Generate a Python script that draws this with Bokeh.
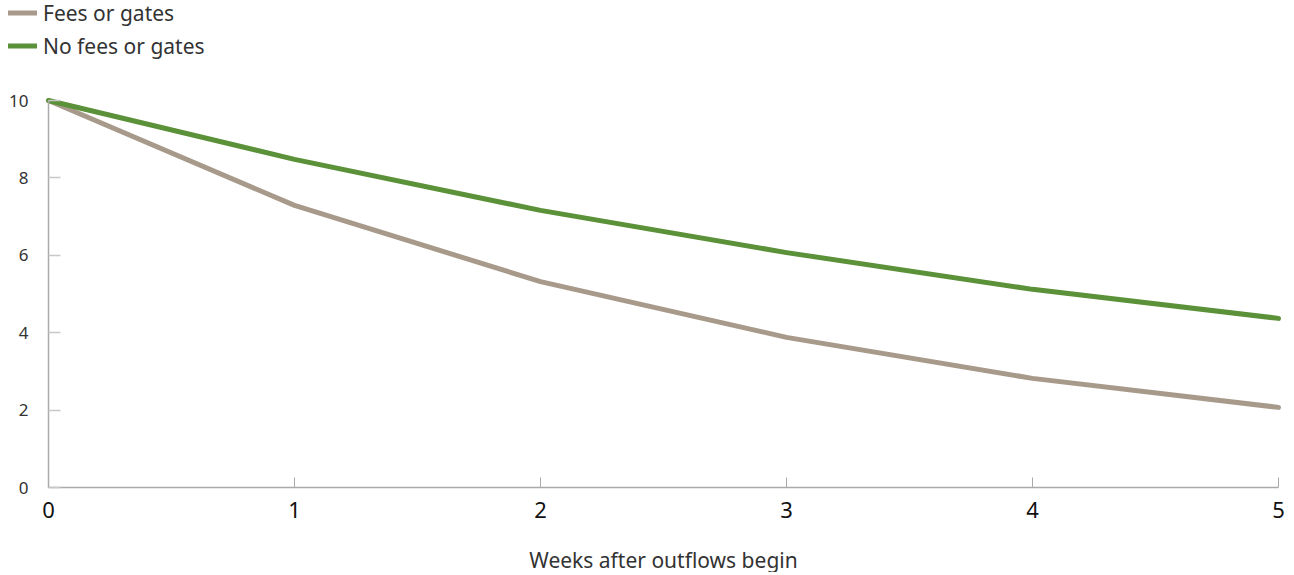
from bokeh.plotting import figure
from bokeh.models import Range1d, Legend, LegendItem, FixedTicker, Label
from bokeh.embed import file_html
from bokeh.resources import INLINE

weeks = [0, 1, 2, 3, 4, 5]
fees_or_gates = [10.0, 7.29, 5.32, 3.88, 2.82, 2.07]
no_fees_or_gates = [10.0, 8.48, 7.16, 6.07, 5.12, 4.37]
y_ticks = [0, 2, 4, 6, 8, 10]
x_label = "Weeks after outflows begin"
series_names = ["Fees or gates", "No fees or gates"]

FONT = "Noto Sans"
TAN = "#a89a8a"
GREEN = "#5b9138"

# The frame spans the whole canvas so that nothing (legend, axes, labels) is clipped;
# the axes are pinned at x = 0 and y = 0.
W, H = 1290, 572
PX_PER_WEEK = 246.0
PX_PER_UNIT = 38.7
AXIS_Y_PX = 487   # canvas y of value 0
AXIS_X_PX = 48    # canvas x of week 0

p = figure(width=W, height=H, output_backend="svg", toolbar_location=None,
           x_range=Range1d(-AXIS_X_PX / PX_PER_WEEK, (W - AXIS_X_PX) / PX_PER_WEEK),
           y_range=Range1d(-(H - AXIS_Y_PX) / PX_PER_UNIT, AXIS_Y_PX / PX_PER_UNIT),
           min_border_left=0, min_border_right=0, min_border_top=0, min_border_bottom=0)
p.outline_line_color = None
p.xgrid.grid_line_color = None
p.ygrid.grid_line_color = None
p.background_fill_color = "white"
p.border_fill_color = "white"

r1 = p.line(weeks, fees_or_gates, line_color=TAN, line_width=5, line_cap="round", line_join="round")
r2 = p.line(weeks, no_fees_or_gates, line_color=GREEN, line_width=5, line_cap="round", line_join="round")

# x axis, pinned at y = 0
xa = p.xaxis[0]
xa.fixed_location = 0
xa.ticker = FixedTicker(ticks=weeks)
xa.bounds = (weeks[0], weeks[-1])
xa.axis_line_color = "#aaaaaa"
xa.axis_line_width = 1.5
xa.major_tick_in = 10
xa.major_tick_out = 0
xa.major_tick_line_color = "#aaaaaa"
xa.minor_tick_line_color = None
xa.major_label_text_font = FONT
xa.major_label_text_font_size = "22px"
xa.major_label_text_color = "#111111"
xa.major_label_standoff = 14

# x axis title, centred under the weeks
p.add_layout(Label(x=(weeks[0] + weeks[-1]) / 2, y=13, y_units="screen", text=x_label,
                   text_align="center", text_baseline="middle",
                   text_font=FONT, text_font_size="21px", text_color="#333333"))

# y axis, pinned at x = 0
ya = p.yaxis[0]
ya.fixed_location = 0
ya.ticker = FixedTicker(ticks=y_ticks)
ya.bounds = (y_ticks[0], y_ticks[-1])
ya.axis_line_color = "#aaaaaa"
ya.axis_line_width = 1.5
ya.major_tick_in = 12
ya.major_tick_out = 0
ya.major_tick_line_color = "#c8c8c8"
ya.major_tick_line_width = 1.5
ya.minor_tick_line_color = None
ya.major_label_text_font = FONT
ya.major_label_text_font_size = "17px"
ya.major_label_text_color = "#333333"
ya.major_label_standoff = 20

legend = Legend(items=[LegendItem(label=series_names[0], renderers=[r1]),
                       LegendItem(label=series_names[1], renderers=[r2])],
                location=(8, 512), orientation="vertical",
                padding=0, margin=0, spacing=4, border_line_color=None,
                background_fill_alpha=0,
                glyph_width=29, glyph_height=29, label_height=29, label_standoff=6,
                label_text_font=FONT, label_text_font_size="21px", label_text_color="#333333")
p.add_layout(legend, "center")

open("out.html", "w").write(file_html(p, INLINE))
